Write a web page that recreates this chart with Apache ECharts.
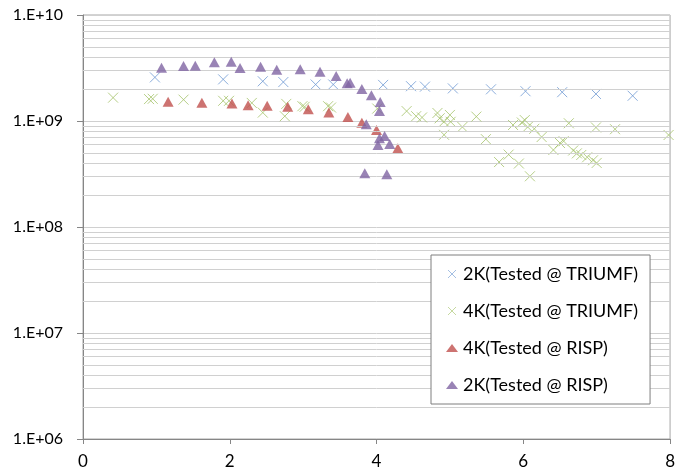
<!DOCTYPE html>
<html><head><meta charset="utf-8">
<script src="https://cdn.jsdelivr.net/npm/echarts@6/dist/echarts.min.js"></script>
<style>html,body{margin:0;padding:0;background:#fff}#c{width:678px;height:475px}</style>
</head><body><div id="c"></div>
<script>
// ---- data ----
const seriesNames = ['2K(Tested @ TRIUMF)', '4K(Tested @ TRIUMF)', '4K(Tested @ RISP)', '2K(Tested @ RISP)'];

const triumf2kX = [0.98, 1.91, 2.45, 2.73, 3.17, 3.41, 4.09, 4.47, 4.66, 5.04, 5.56, 6.03, 6.53, 6.99, 7.49];
const triumf2kY = [2.58e9, 2.47e9, 2.37e9, 2.33e9, 2.21e9, 2.21e9, 2.19e9, 2.13e9, 2.11e9, 2.03e9, 1.99e9, 1.91e9, 1.87e9, 1.80e9, 1.73e9];

const triumf4kX = [0.41, 0.90, 0.95, 1.37, 1.91, 1.99, 2.30, 2.45, 2.77, 2.75, 2.99, 3.02, 3.34, 3.38, 4.01, 4.41, 4.54, 4.62, 4.83, 4.86, 4.92, 5.00, 5.01, 4.92, 5.17, 5.36, 5.49, 5.67, 5.80, 5.94, 5.86, 5.98, 6.02, 6.06, 6.15, 6.25, 6.09, 6.41, 6.50, 6.55, 6.62, 6.68, 6.73, 6.79, 6.87, 6.95, 7.00, 6.99, 7.25, 7.98];
const triumf4kY = [1.66e9, 1.61e9, 1.62e9, 1.59e9, 1.55e9, 1.55e9, 1.48e9, 1.20e9, 1.45e9, 1.11e9, 1.38e9, 1.36e9, 1.38e9, 1.34e9, 1.31e9, 1.24e9, 1.11e9, 1.08e9, 1.19e9, 1.06e9, 9.85e8, 1.14e9, 9.83e8, 7.41e8, 8.78e8, 1.10e9, 6.74e8, 4.10e8, 4.82e8, 3.97e8, 9.17e8, 9.68e8, 1.02e9, 8.78e8, 8.44e8, 7.06e8, 3.01e8, 5.33e8, 6.20e8, 6.45e8, 9.52e8, 5.27e8, 4.95e8, 4.78e8, 4.55e8, 4.26e8, 4.02e8, 8.69e8, 8.37e8, 7.38e8];

const risp4kX = [1.16, 1.62, 2.03, 2.25, 2.51, 2.79, 3.07, 3.35, 3.61, 3.80, 4.00, 4.29];
const risp4kY = [1.52e9, 1.49e9, 1.46e9, 1.41e9, 1.39e9, 1.36e9, 1.29e9, 1.20e9, 1.09e9, 9.64e8, 8.22e8, 5.52e8];

const risp2kX = [1.07, 1.37, 1.53, 1.79, 2.02, 2.14, 2.42, 2.64, 2.96, 3.23, 3.45, 3.60, 3.64, 3.80, 3.93, 4.05, 4.04, 3.86, 4.11, 4.04, 4.02, 4.18, 3.84, 4.14];
const risp2kY = [3.18e9, 3.30e9, 3.32e9, 3.58e9, 3.63e9, 3.16e9, 3.25e9, 3.05e9, 3.08e9, 2.92e9, 2.66e9, 2.27e9, 2.30e9, 2.00e9, 1.75e9, 1.51e9, 1.24e9, 9.31e8, 7.22e8, 6.87e8, 5.94e8, 6.07e8, 3.21e8, 3.14e8];

const xTickInterval = 2;
const xMin = 0, xMax = 8;
const yMin = 1e6, yMax = 1e10;
const minorGridValues = [
  2e6, 3e6, 4e6, 5e6, 6e6, 7e6, 8e6, 9e6,
  2e7, 3e7, 4e7, 5e7, 6e7, 7e7, 8e7, 9e7,
  2e8, 3e8, 4e8, 5e8, 6e8, 7e8, 8e8, 9e8,
  2e9, 3e9, 4e9, 5e9, 6e9, 7e9, 8e9, 9e9
];

// ---- chart ----
const zip = (xs, ys) => xs.map((x, i) => [x, ys[i]]);
const xPath = 'path://M0,0L10,10M10,0L0,10';
const FONT = 'Lato, "Liberation Sans", sans-serif';
const colors = ['#6f9ad3', '#a5c36a', '#C0504D', '#8064A2'];

const chart = echarts.init(document.getElementById('c'), null, {renderer: 'canvas'});
chart.setOption({
  animation: false,
  backgroundColor: '#ffffff',
  grid: {left: 83, right: 4, top: 15, bottom: 36, show: true, borderColor: '#a6a6a6', borderWidth: 1, containLabel: false},
  xAxis: {
    type: 'value', min: xMin, max: xMax, interval: xTickInterval,
    axisLine: {show: true, onZero: false, lineStyle: {color: '#868686', width: 1}},
    axisTick: {show: true, length: 5, lineStyle: {color: '#868686'}},
    splitLine: {show: false},
    axisLabel: {fontFamily: FONT, fontSize: 17, color: '#000', margin: 14}
  },
  yAxis: {
    type: 'log', logBase: 10, min: yMin, max: yMax, splitNumber: 4,
    axisLine: {show: true, lineStyle: {color: '#868686', width: 1}},
    axisTick: {show: true, length: 6, lineStyle: {color: '#868686'}},
    splitLine: {show: true, lineStyle: {color: '#d0d0d0', width: 1}},
    axisLabel: {
      fontFamily: FONT, fontSize: 16, color: '#000', margin: 20,
      formatter: v => { const e = Math.round(Math.log10(v)); return '1.E+' + (e < 10 ? '0' + e : e); }
    }
  },
  legend: {
    z: 50, zlevel: 1,
    data: [
      {name: seriesNames[0], itemStyle: {color: 'rgba(0,0,0,0)', borderColor: colors[0], borderWidth: 0.8}},
      {name: seriesNames[1], itemStyle: {color: 'rgba(0,0,0,0)', borderColor: colors[1], borderWidth: 0.8}},
      {name: seriesNames[2]},
      {name: seriesNames[3]}
    ],
    orient: 'vertical', left: 431, top: 255,
    backgroundColor: '#ffffff', borderColor: '#7f7f7f', borderWidth: 1, borderRadius: 0,
    padding: [9, 12, 9, 15],
    itemWidth: 12, itemHeight: 8, itemGap: 17,
    textStyle: {fontFamily: FONT, fontSize: 18, color: '#000', lineHeight: 20}
  },
  series: [
    {
      type: 'scatter', name: 'grid', data: [], z: 1, silent: true,
      markLine: {
        silent: true, symbol: 'none', animation: false,
        label: {show: false},
        lineStyle: {color: '#d0d0d0', type: 'solid', width: 1},
        data: minorGridValues.map(v => ({yAxis: v}))
      }
    },
    {
      type: 'scatter', name: seriesNames[0], data: zip(triumf2kX, triumf2kY), z: 3,
      symbol: xPath, symbolSize: 10,
      itemStyle: {color: 'rgba(0,0,0,0)', borderColor: colors[0], borderWidth: 1}
    },
    {
      type: 'scatter', name: seriesNames[1], data: zip(triumf4kX, triumf4kY), z: 3,
      symbol: xPath, symbolSize: 10,
      itemStyle: {color: 'rgba(0,0,0,0)', borderColor: colors[1], borderWidth: 1}
    },
    {
      type: 'scatter', name: seriesNames[2], data: zip(risp4kX, risp4kY), z: 4,
      symbol: 'triangle', symbolSize: [11, 10],
      itemStyle: {color: colors[2]}
    },
    {
      type: 'scatter', name: seriesNames[3], data: zip(risp2kX, risp2kY), z: 5,
      symbol: 'triangle', symbolSize: [11, 10],
      itemStyle: {color: colors[3]}
    }
  ]
});
</script>
</body></html>
